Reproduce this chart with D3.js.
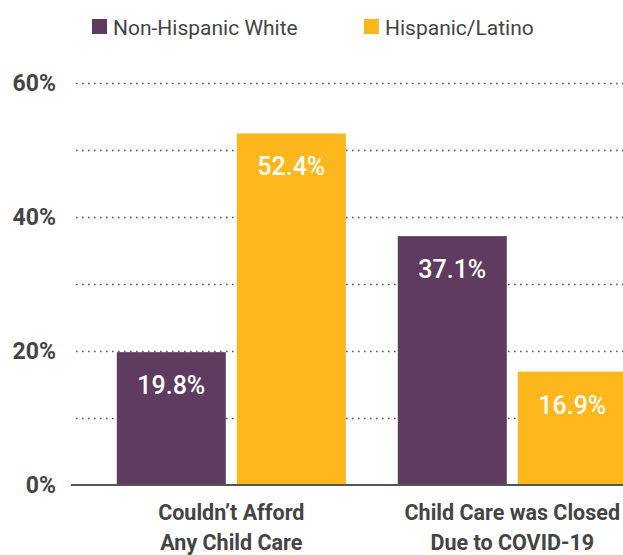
<!DOCTYPE html>
<html>
<head>
<meta charset="utf-8">
<script src="https://cdn.jsdelivr.net/npm/d3@7"></script>
<style>
  html, body { margin: 0; padding: 0; background: #fff; }
  svg { display: block; }
  .legend-label { font-family: "Roboto", sans-serif; font-size: 21px; fill: #444; }
  .axis-label { font-family: "Roboto", sans-serif; font-weight: bold; font-size: 23px; fill: #444; }
  .cat-label { font-family: "Roboto", sans-serif; font-weight: bold; font-size: 21.5px; fill: #444; }
  .value-label { font-family: "Roboto", sans-serif; font-weight: 500; font-size: 25px; fill: #fff; }
</style>
</head>
<body>
<div id="chart"></div>
<script>
const categories = [
  ["Couldn\u2019t Afford", "Any Child Care"],
  ["Child Care was Closed", "Due to COVID-19"],
];
const seriesNames = ["Non-Hispanic White", "Hispanic/Latino"];
const nonHispanicWhite = [19.8, 37.1];
const hispanicLatino = [52.4, 16.9];
const gridTicks = [0, 10, 20, 30, 40, 50, 60];
const labelTicks = [0, 20, 40, 60];
const colors = ["#5e3b5f", "#fbb71b"];

const width = 623;
const height = 555;
const margin = { top: 82, bottom: 70, left: 71 };
const baseY = 485;

const svg = d3.select("#chart")
  .append("svg")
  .attr("width", width)
  .attr("height", height);

const groupKeys = categories.map((c) => c.join(" "));
const seriesValues = [nonHispanicWhite, hispanicLatino];

const x0 = d3.scaleBand()
  .domain(groupKeys)
  .range([margin.left, 672.6])
  .paddingInner(0.185)
  .paddingOuter(0.163);

const x1 = d3.scaleBand()
  .domain(seriesNames)
  .range([0, x0.bandwidth()])
  .paddingInner(0.0917);

const y = d3.scaleLinear()
  .domain([0, 60])
  .range([baseY, 82.5]);

// dotted gridlines
svg.append("g")
  .selectAll("line")
  .data(gridTicks.filter((t) => t > 0))
  .join("line")
  .attr("x1", 76)
  .attr("x2", width)
  .attr("y1", (d) => Math.round(y(d)) + 0.5)
  .attr("y2", (d) => Math.round(y(d)) + 0.5)
  .attr("stroke", "#555")
  .attr("stroke-width", 1.6)
  .attr("stroke-dasharray", "1.6,4.4");

// y labels
svg.append("g")
  .selectAll("text")
  .data(labelTicks)
  .join("text")
  .attr("class", "axis-label")
  .attr("x", 56)
  .attr("y", (d) => y(d))
  .attr("dy", "0.36em")
  .attr("text-anchor", "end")
  .text((d) => `${d}%`);

// bars
const groups = svg.append("g")
  .selectAll("g")
  .data(groupKeys)
  .join("g")
  .attr("transform", (d) => `translate(${x0(d)},0)`);

groups.selectAll("rect")
  .data((d, i) => seriesNames.map((name, s) => ({ name, value: seriesValues[s][i], s })))
  .join("rect")
  .attr("x", (d) => x1(d.name))
  .attr("y", (d) => y(d.value))
  .attr("width", x1.bandwidth())
  .attr("height", (d) => baseY - y(d.value))
  .attr("fill", (d) => colors[d.s]);

groups.selectAll("text.value-label")
  .data((d, i) => seriesNames.map((name, s) => ({ name, value: seriesValues[s][i], s })))
  .join("text")
  .attr("class", "value-label")
  .attr("x", (d) => x1(d.name) + x1.bandwidth() / 2)
  .attr("y", (d) => y(d.value) + 42)
  .attr("text-anchor", "middle")
  .text((d) => `${d.value.toFixed(1)}%`);

// baseline
svg.append("line")
  .attr("x1", margin.left)
  .attr("x2", width)
  .attr("y1", baseY)
  .attr("y2", baseY)
  .attr("stroke", "#555")
  .attr("stroke-width", 2);

// category labels
const catText = svg.append("g")
  .selectAll("text")
  .data(categories)
  .join("text")
  .attr("class", "cat-label")
  .attr("x", (d) => x0(d.join(" ")) + x0.bandwidth() / 2)
  .attr("y", 520)
  .attr("text-anchor", "middle");

catText.selectAll("tspan")
  .data((d) => d)
  .join("tspan")
  .attr("x", function () { return d3.select(this.parentNode).attr("x"); })
  .attr("dy", (d, i) => (i === 0 ? 0 : 30))
  .text((d) => d);

// legend
const legendX = [92, 364];
const legend = svg.append("g")
  .selectAll("g")
  .data(seriesNames)
  .join("g")
  .attr("transform", (d, i) => `translate(${legendX[i]},19)`);

legend.append("rect")
  .attr("width", 15)
  .attr("height", 15)
  .attr("fill", (d, i) => colors[i]);

legend.append("text")
  .attr("class", "legend-label")
  .attr("x", 21)
  .attr("y", 16)
  .text((d) => d);
</script>
</body>
</html>
